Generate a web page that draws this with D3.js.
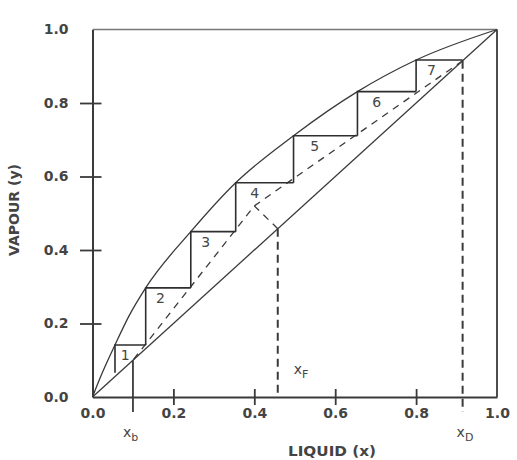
<!DOCTYPE html>
<html>
<head>
<meta charset="utf-8">
<script src="https://cdn.jsdelivr.net/npm/d3@7"></script>
<style>
  html, body { margin: 0; padding: 0; background: #fff; }
  svg { display: block; }
  text { font-family: "DejaVu Sans", sans-serif; fill: #444; }
</style>
</head>
<body>
<svg id="chart" width="517" height="460"></svg>
<script>
// ---- data ----
const tickValues = [0.0, 0.2, 0.4, 0.6, 0.8, 1.0];
const tickLabels = ["0.0", "0.2", "0.4", "0.6", "0.8", "1.0"];

// equilibrium curve (x, y)
const eqX = [0, 0.02, 0.0556, 0.09, 0.1315, 0.243, 0.354, 0.497, 0.655, 0.80, 1.0];
const eqY = [0, 0.055, 0.1415, 0.22, 0.297, 0.45, 0.583, 0.711, 0.831, 0.917, 1.0];

// stages 1..7 : x of the step riser, y at the top (on curve), y at bottom (on operating line)
const stageLabels = ["1", "2", "3", "4", "5", "6", "7"];
const stageX      = [0.0556, 0.1315, 0.243, 0.354, 0.497, 0.655, 0.80];
const stageTop    = [0.1415, 0.297, 0.45, 0.583, 0.711, 0.831, 0.917];
const stageBottom = [0.066, 0.1415, 0.297, 0.45, 0.583, 0.711, 0.831];

// key compositions
const xB = 0.10, xF = 0.458, xD = 0.915;

// operating lines (rectifying + stripping) and q-line
const opX = [0.915, 0.40, 0.10];
const opY = [0.915, 0.52, 0.10];
const qX = [0.458, 0.40];
const qY = [0.458, 0.52];

const xTitle = "LIQUID (x)";
const yTitle = "VAPOUR (y)";

// ---- drawing ----
const svg = d3.select("#chart");
const X = d3.scaleLinear().domain([0, 1]).range([92.5, 497]);
const Y = d3.scaleLinear().domain([0, 1]).range([397, 29.5]);
const ink = "#3a3a3a";

// frame: top + right borders
svg.append("line").attr("x1", X(0)).attr("x2", X(1)).attr("y1", Y(1)).attr("y2", Y(1))
  .attr("stroke", "#777").attr("stroke-width", 1.6);
svg.append("line").attr("x1", X(1)).attr("x2", X(1)).attr("y1", Y(1)).attr("y2", Y(0))
  .attr("stroke", ink).attr("stroke-width", 1.8);

// axes
const xAxis = d3.axisBottom(X).tickValues(tickValues).tickFormat((d, i) => tickLabels[i]).tickSize(8).tickSizeOuter(0);
const yAxis = d3.axisLeft(Y).tickValues(tickValues).tickFormat((d, i) => tickLabels[i]).tickSize(12).tickSizeOuter(0);

const gx = svg.append("g").attr("transform", `translate(0,${Y(0)})`).call(xAxis);
const gy = svg.append("g").attr("transform", `translate(${X(0)},0)`).call(yAxis);

[gx, gy].forEach(g => {
  g.select(".domain").attr("stroke", ink).attr("stroke-width", 2);
  g.selectAll(".tick line").attr("stroke", ink).attr("stroke-width", 1.8);
  g.selectAll(".tick text").attr("font-family", "DejaVu Sans").attr("font-size", 14)
    .attr("font-weight", "bold").attr("fill", "#555");
  g.selectAll(".tick").filter(d => d === 0 || d === 1).select("line").remove();
});
gx.selectAll(".tick line").attr("y1", -8).attr("y2", 8);
gx.selectAll(".tick text").attr("y", 11);
gy.selectAll(".tick line").attr("x1", 9).attr("x2", -12.5);
gy.selectAll(".tick text").attr("x", -24);

// diagonal
svg.append("line").attr("x1", X(0)).attr("y1", Y(0)).attr("x2", X(1)).attr("y2", Y(1))
  .attr("stroke", ink).attr("stroke-width", 1.3);

// equilibrium curve
const eqData = eqX.map((x, i) => [x, eqY[i]]);
svg.append("path")
  .attr("d", d3.line().x(d => X(d[0])).y(d => Y(d[1])).curve(d3.curveMonotoneX)(eqData))
  .attr("fill", "none").attr("stroke", ink).attr("stroke-width", 1.3);

// operating lines (dashed)
const opData = opX.map((x, i) => [x, opY[i]]);
svg.append("path")
  .attr("d", d3.line().x(d => X(d[0])).y(d => Y(d[1]))(opData))
  .attr("fill", "none").attr("stroke", ink).attr("stroke-width", 1.3).attr("stroke-dasharray", "7,6");
const qData = qX.map((x, i) => [x, qY[i]]);
svg.append("path")
  .attr("d", d3.line().x(d => X(d[0])).y(d => Y(d[1]))(qData))
  .attr("fill", "none").attr("stroke", ink).attr("stroke-width", 1.3).attr("stroke-dasharray", "7,6");

// stage steps
const stageRight = stageX.map((x, i) => i < stageX.length - 1 ? stageX[i + 1] : xD);
const stepPath = d3.path();
stageX.forEach((x, i) => {
  stepPath.moveTo(X(stageRight[i]), Y(stageTop[i]));
  stepPath.lineTo(X(x), Y(stageTop[i]));
  stepPath.lineTo(X(x), Y(stageBottom[i]));
});
svg.append("path").attr("d", stepPath.toString())
  .attr("fill", "none").attr("stroke", "#2e2e2e").attr("stroke-width", 1.6);

// stage numbers
svg.selectAll("text.stage").data(stageLabels).join("text").attr("class", "stage")
  .attr("x", (d, i) => X(stageX[i]) + 0.33 * (X(stageRight[i]) - X(stageX[i])))
  .attr("y", (d, i) => Y(stageTop[i]) + 10)
  .attr("text-anchor", "middle").attr("dominant-baseline", "central")
  .attr("font-size", 14).attr("fill", "#333")
  .text(d => d);

// composition markers
svg.append("line").attr("x1", X(xB)).attr("x2", X(xB)).attr("y1", Y(xB)).attr("y2", Y(0) + 15)
  .attr("stroke", ink).attr("stroke-width", 1.8);
svg.append("line").attr("x1", X(xF)).attr("x2", X(xF)).attr("y1", Y(xF)).attr("y2", Y(0))
  .attr("stroke", ink).attr("stroke-width", 2).attr("stroke-dasharray", "8,5");
svg.append("line").attr("x1", X(xD)).attr("x2", X(xD)).attr("y1", Y(xD)).attr("y2", Y(0) + 15)
  .attr("stroke", ink).attr("stroke-width", 2).attr("stroke-dasharray", "8,5");

function subLabel(x, y, main, sub) {
  const t = svg.append("text").attr("x", x).attr("y", y).attr("font-size", 14).attr("fill", "#444");
  t.append("tspan").text(main);
  t.append("tspan").attr("font-size", 11).attr("dy", 4).text(sub);
}
subLabel(X(xB) - 10, 437, "x", "b");
subLabel(X(xF) + 16, 374, "x", "F");
subLabel(X(xD) - 6, 437, "x", "D");

// axis titles
svg.append("text").attr("x", 332).attr("y", 451).attr("text-anchor", "middle")
  .attr("dominant-baseline", "central").attr("font-size", 14).attr("font-weight", "bold")
  .attr("fill", "#555").attr("textLength", 88).attr("lengthAdjust", "spacingAndGlyphs").text(xTitle);
svg.append("text").attr("transform", "translate(14,210) rotate(-90)").attr("text-anchor", "middle")
  .attr("dominant-baseline", "central").attr("font-size", 14).attr("font-weight", "bold")
  .attr("fill", "#555").attr("textLength", 92).attr("lengthAdjust", "spacingAndGlyphs").text(yTitle);
</script>
</body>
</html>
